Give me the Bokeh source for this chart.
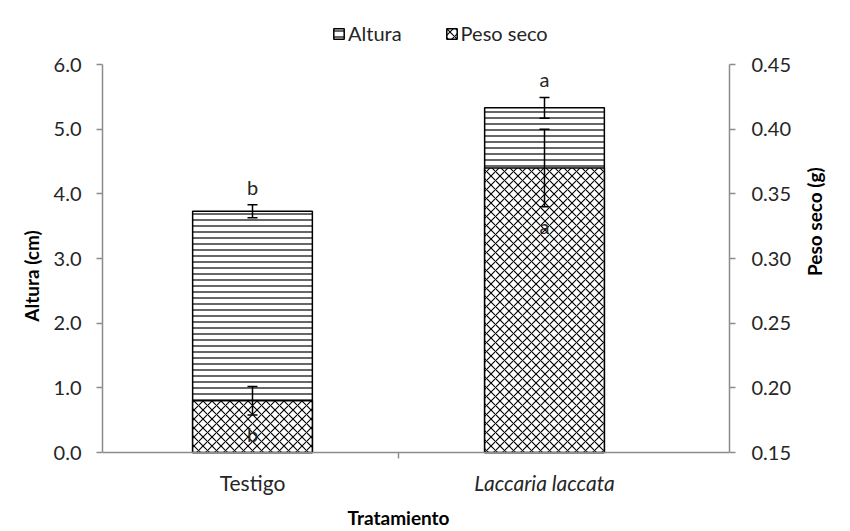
import math
from bokeh.plotting import figure
from bokeh.models import (Range1d, LinearAxis, FixedTicker, PrintfTickFormatter, ColumnDataSource,
                          Whisker, TeeHead, Legend, LegendItem)
from bokeh.core.properties import value
from bokeh.embed import file_html
from bokeh.resources import INLINE

# ---- data ----
categories = ["Testigo", "Laccaria laccata"]
category_styles = ["normal", "italic"]
altura = [3.73, 5.33]
altura_err = [0.10, 0.16]
peso = [0.190, 0.370]
peso_err = [0.011, 0.030]
altura_letters = ["b", "a"]
peso_letters = ["b", "a"]
left_ticks = [0, 1, 2, 3, 4, 5, 6]
right_ticks = [0.15, 0.20, 0.25, 0.30, 0.35, 0.40, 0.45]
left_span = (0, 6)
right_span = (0.15, 0.45)

FONT = "Lato"
TXT = "#262626"
AX = "#8c8c8c"

# ---- page geometry (pixels) ----
W, H = 850, 531
FL, FR, FT, FB = 102, 729, 20, 531     # frame edges
AXIS_TOP, AXIS_BOT = 64, 452           # y=6 and y=0 positions
CAT0, CAT1 = 252, 544                  # category centres
kx = (CAT1 - CAT0)
ky = (AXIS_BOT - AXIS_TOP) / (left_span[1] - left_span[0])
x_start = (FL - CAT0) / kx
x_end = (FR - CAT0) / kx
y_start = -(FB - AXIS_BOT) / ky
y_end = left_span[1] + (AXIS_TOP - FT) / ky
rs = (right_span[1] - right_span[0]) / (left_span[1] - left_span[0])
r_start = right_span[0] + y_start * rs
r_end = right_span[0] + y_end * rs

xs = list(range(len(categories)))
src = ColumnDataSource(dict(
    x=xs, altura=altura,
    a_up=[v + e for v, e in zip(altura, altura_err)],
    a_lo=[v - e for v, e in zip(altura, altura_err)],
    a_ly=[v + e + 0.28 for v, e in zip(altura, altura_err)],
    a_lt=altura_letters,
    peso=peso,
    p_up=[v + e for v, e in zip(peso, peso_err)],
    p_lo=[v - e for v, e in zip(peso, peso_err)],
    p_ly=[v - e - 0.015 for v, e in zip(peso, peso_err)],
    p_lt=peso_letters,
))
cat_src = ColumnDataSource(dict(x=xs, y=[-0.47] * len(xs), t=categories, st=category_styles))

p = figure(width=W, height=H, output_backend="svg", toolbar_location=None,
           x_axis_location="above",
           x_range=Range1d(x_start, x_end), y_range=Range1d(y_start, y_end),
           min_border_left=FL, min_border_right=W - FR, min_border_top=FT, min_border_bottom=0)
p.extra_y_ranges = {"peso": Range1d(r_start, r_end)}
p.outline_line_color = None
p.grid.visible = False
p.background_fill_color = "white"
p.border_fill_color = "white"

r_alt = p.vbar(x="x", top="altura", bottom=0, width=0.41, source=src,
               fill_color="white", line_color="black", line_width=1.5,
               hatch_pattern="horizontal_line", hatch_color="black", hatch_weight=1.2, hatch_scale=6)
r_peso = p.vbar(x="x", top="peso", bottom=right_span[0], width=0.41, source=src, y_range_name="peso",
                fill_color="white", line_color="black", line_width=1.5,
                hatch_pattern="diagonal_cross", hatch_color="black", hatch_weight=1.1, hatch_scale=9)

p.add_layout(Whisker(source=src, base="x", upper="a_up", lower="a_lo", level="overlay",
                     line_color="black", line_width=1.5,
                     upper_head=TeeHead(size=10, line_width=1.5), lower_head=TeeHead(size=10, line_width=1.5)))
p.add_layout(Whisker(source=src, base="x", upper="p_up", lower="p_lo", y_range_name="peso", level="overlay",
                     line_color="black", line_width=1.5,
                     upper_head=TeeHead(size=10, line_width=1.5), lower_head=TeeHead(size=10, line_width=1.5)))

p.text(x="x", y="a_ly", text="a_lt", source=src, text_align="center", text_baseline="middle",
       text_font=value(FONT), text_font_size="20px", text_color=TXT)
p.text(x="x", y="p_ly", text="p_lt", source=src, y_range_name="peso", text_align="center",
       text_baseline="middle", text_font=value(FONT), text_font_size="20px", text_color=TXT)

# category labels and x title
p.text(x="x", y="y", text="t", text_font_style="st", source=cat_src, text_align="center",
       text_baseline="middle", text_font=value(FONT), text_font_size="21px", text_color=TXT)
p.text(x=[0.5], y=[(AXIS_BOT - 517) / ky], text=["Tratamiento"], text_align="center",
       text_baseline="middle", text_font=value(FONT), text_font_size="19px",
       text_font_style="bold", text_color="black")

# axes
def style_axis(ax):
    ax.axis_line_color = AX
    ax.axis_line_width = 1.5
    ax.major_tick_line_color = AX
    ax.major_tick_line_width = 1.5
    ax.minor_tick_line_color = None
    ax.major_label_text_font = FONT
    ax.major_label_text_font_size = "20px"
    ax.major_label_text_color = TXT
    ax.axis_label_text_font = FONT
    ax.axis_label_text_font_size = "19px"
    ax.axis_label_text_font_style = "bold"
    ax.axis_label_text_color = "black"

ya = p.yaxis[0]
style_axis(ya)
ya.bounds = left_span
ya.ticker = FixedTicker(ticks=left_ticks)
ya.formatter = PrintfTickFormatter(format="%.1f")
ya.major_tick_in = 0
ya.major_tick_out = 6
ya.major_label_standoff = 15
ya.axis_label = "Altura (cm)"
ya.axis_label_standoff = 8

ra = LinearAxis(y_range_name="peso", ticker=FixedTicker(ticks=right_ticks), bounds=right_span,
                formatter=PrintfTickFormatter(format="%.2f"), axis_label="Peso seco (g)")
style_axis(ra)
ra.major_tick_in = 0
ra.major_tick_out = 6
ra.major_label_standoff = 16
ra.axis_label_standoff = 20
ra.axis_label_orientation = math.pi / 2
p.add_layout(ra, "right")

xa = p.xaxis[0]
style_axis(xa)
xa.fixed_location = 0
xa.ticker = FixedTicker(ticks=[0.5], minor_ticks=[])
xa.major_label_overrides = {0.5: " "}
xa.major_label_text_font_size = "2px"
xa.major_label_standoff = 0
xa.major_tick_in = 6
xa.major_tick_out = 0

legend = Legend(items=[LegendItem(label="Altura", renderers=[r_alt]),
                       LegendItem(label="Peso seco", renderers=[r_peso])],
                orientation="horizontal", location=(230, FB - 45),
                border_line_color=None, background_fill_alpha=0,
                label_text_font=FONT, label_text_font_size="20px", label_text_color=TXT,
                glyph_width=13, glyph_height=13, label_standoff=3, spacing=43, padding=4, margin=0)
p.add_layout(legend)

open("out.html", "w").write(file_html(p, INLINE))
